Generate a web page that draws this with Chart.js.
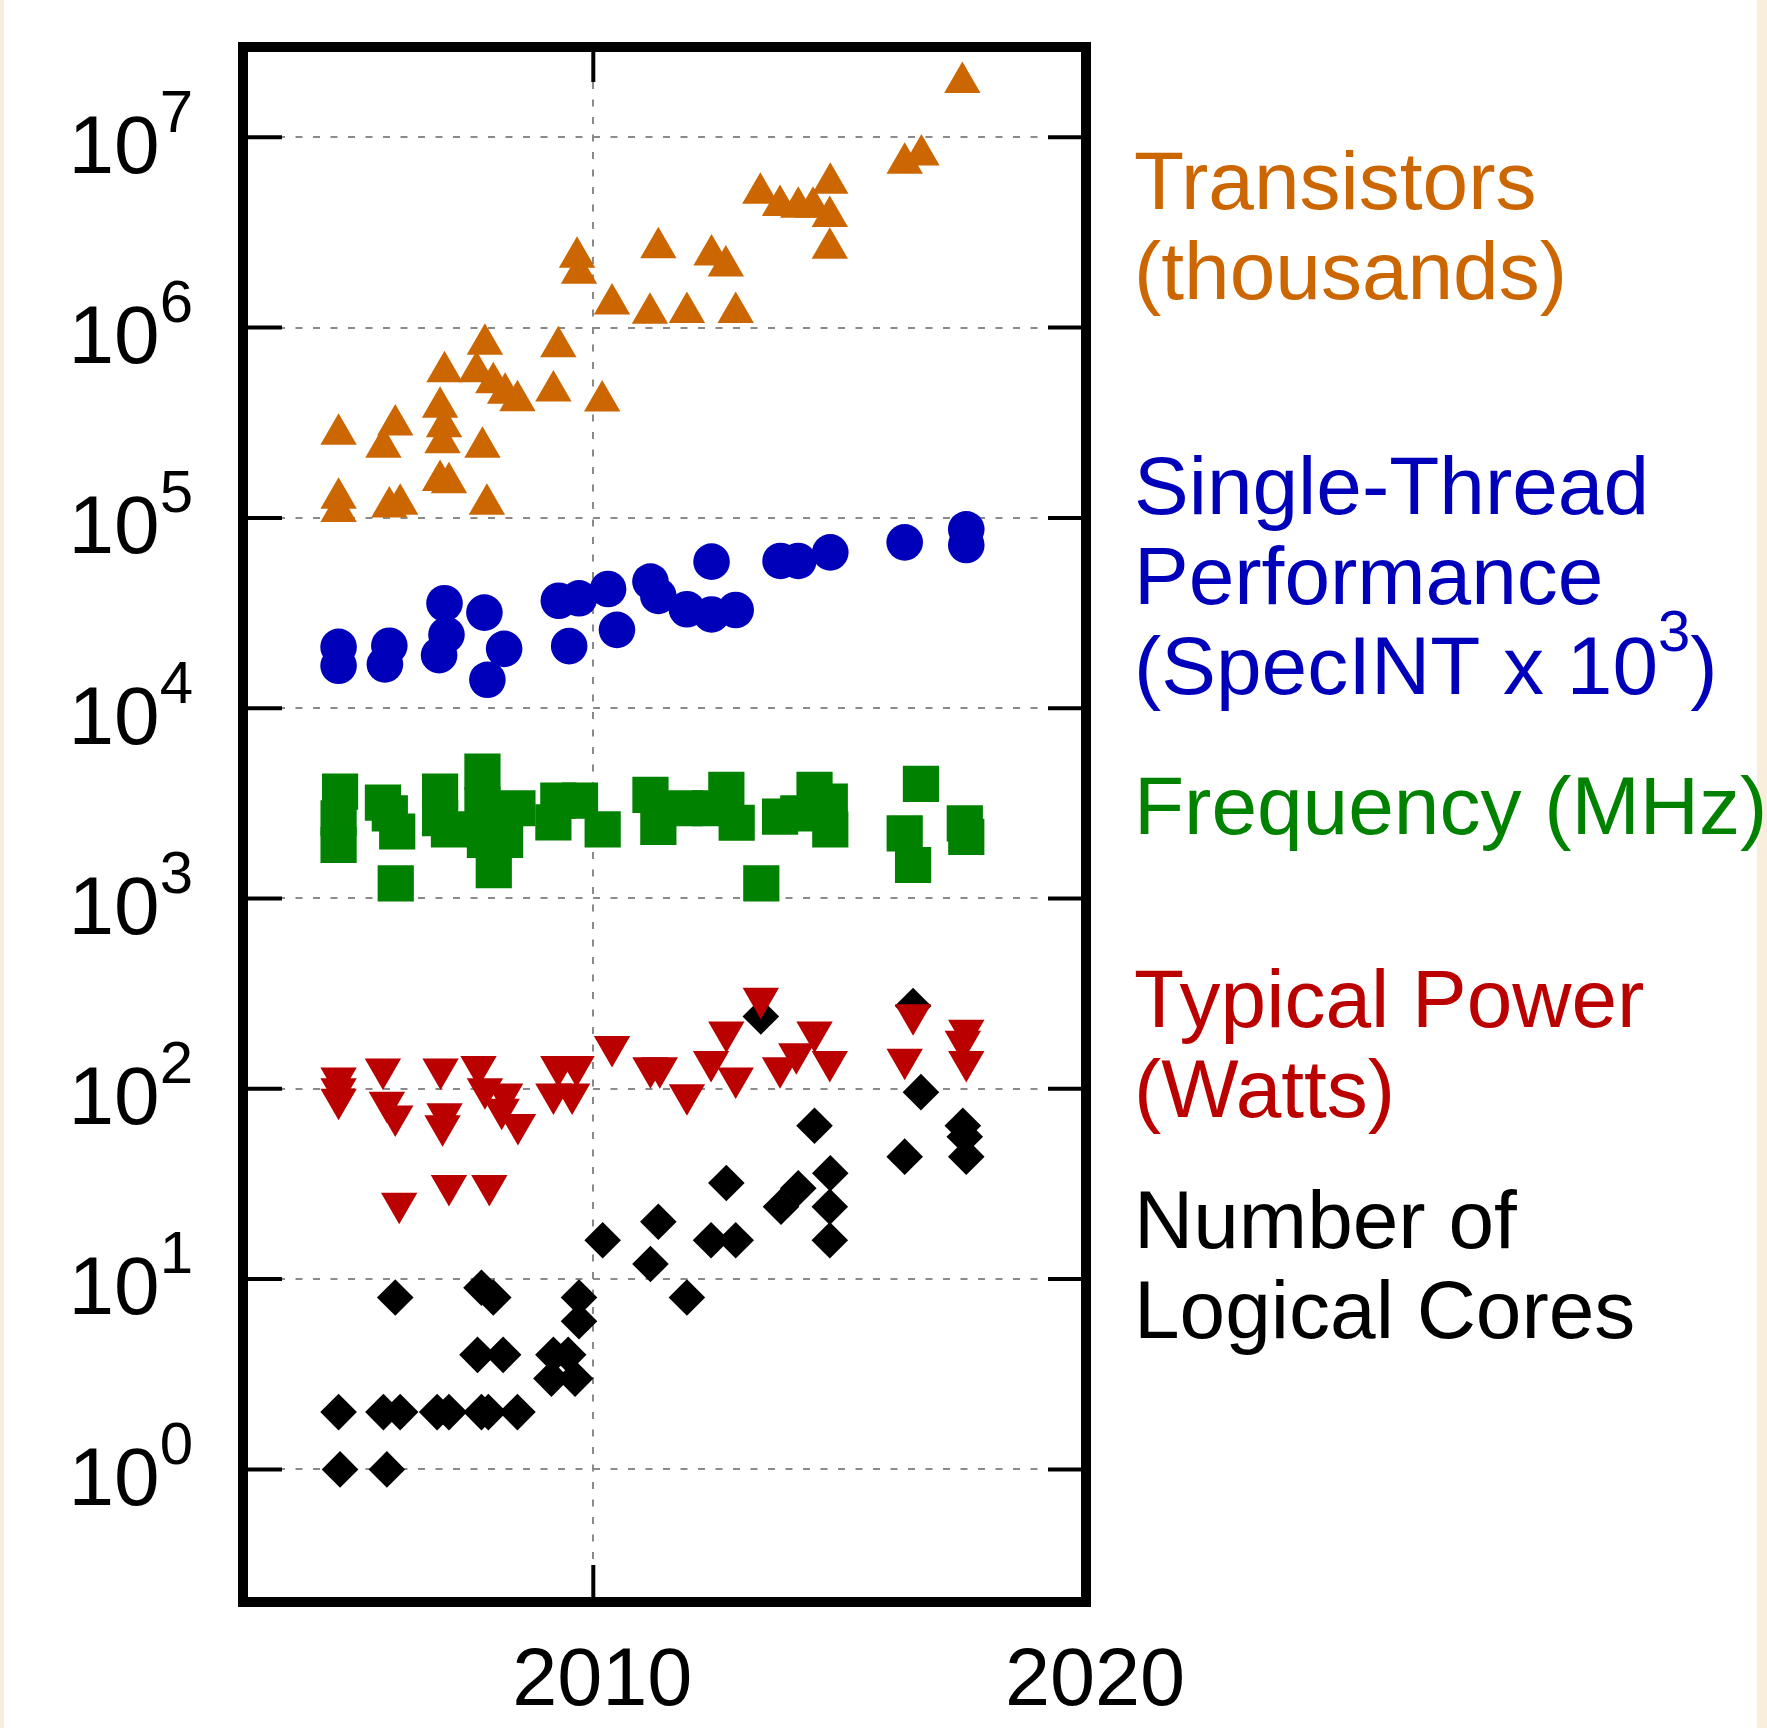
<!DOCTYPE html>
<html>
<head>
<meta charset="utf-8">
<script src="https://cdn.jsdelivr.net/npm/chart.js@4.4.1/dist/chart.umd.min.js"></script>
<style>
  html, body { margin: 0; padding: 0; background: #ffffff; }
  canvas { display: block; }
</style>
</head>
<body>
<canvas id="c" width="1767" height="1728"></canvas>
<script>
// ---------------- data ----------------
const transistorYears = [2004.83, 2005.98, 2005.74, 2006.89, 2006.97, 2006.94, 2007.75, 2006.98, 2007.80, 2007.63,
  2007.97, 2008.21, 2008.46, 2009.29, 2009.19, 2010.18, 2009.67, 2009.71, 2010.38, 2011.32,
  2011.15, 2011.90, 2004.83, 2004.83, 2005.86, 2006.08, 2006.89, 2007.07, 2007.84, 2017.49,
  2016.32, 2016.66, 2013.39, 2013.79, 2014.16, 2014.46, 2014.81, 2014.80, 2014.80, 2012.40,
  2012.69, 2012.89];
const transistorValues = [275000, 308000, 235000, 381000, 301000, 248000, 235000, 587000, 817000, 587000,
  513000, 452000, 413000, 794000, 465000, 411000, 2340000, 1930000, 1330000, 2630000,
  1190000, 1200000, 127000, 108000, 114000, 118000, 157000, 153000, 118000, 19400000,
  7300000, 8070000, 5080000, 4380000, 4290000, 4290000, 5730000, 3830000, 2610000, 2410000,
  2110000, 1200000];

const perfYears = [2004.83, 2004.83, 2005.86, 2005.77, 2006.98, 2007.02, 2006.87, 2007.79, 2008.19, 2007.85,
  2009.30, 2009.71, 2010.30, 2009.51, 2010.48, 2011.16, 2011.32, 2011.90, 2012.40, 2012.40,
  2012.89, 2013.80, 2014.16, 2014.81, 2016.32, 2017.57, 2017.57];
const perfValues = [21000, 16700, 21300, 17000, 35600, 24300, 19000, 31800, 20500, 14100,
  36700, 37800, 42300, 21200, 25800, 46300, 38900, 33100, 58900, 31100,
  32800, 59400, 59400, 65900, 74400, 87100, 72000];

const freqYears = [2004.86, 2004.83, 2004.83, 2005.73, 2005.87, 2006.02, 2005.99, 2006.89, 2006.89, 2007.07,
  2007.75, 2007.75, 2007.80, 2008.21, 2007.98, 2008.46, 2009.29, 2009.73, 2009.19, 2010.19,
  2011.16, 2011.32, 2011.86, 2012.37, 2012.70, 2012.91, 2013.41, 2013.79, 2014.16, 2014.49,
  2014.80, 2014.81, 2016.65, 2016.32, 2016.49, 2017.54, 2017.57];
const freqValues = [3640, 2640, 1910, 3190, 2800, 2250, 1200, 3640, 2640, 2310,
  4640, 3100, 2030, 2030, 1410, 2980, 3270, 3270, 2510, 2310,
  3500, 2380, 2980, 2980, 3720, 2500, 1200, 2690, 2800, 3720,
  3230, 2310, 4000, 2200, 1500, 2480, 2110];

const powerYears = [2004.83, 2004.83, 2004.83, 2005.73, 2005.81, 2005.98, 2006.90, 2006.98, 2006.94, 2007.67,
  2007.80, 2008.21, 2008.14, 2008.47, 2009.29, 2009.66, 2009.19, 2009.57, 2010.38, 2011.16,
  2011.35, 2011.90, 2012.70, 2012.39, 2012.89, 2013.40, 2013.79, 2014.12, 2014.49, 2014.80,
  2016.49, 2016.32, 2017.57, 2017.50, 2017.57, 2006.06, 2007.07, 2007.89];
const powerValues = [114, 100, 88, 127, 85, 72, 127, 74, 64, 131,
  100, 94, 78, 65, 131, 131, 94, 94, 167, 129,
  129, 93, 199, 139, 114, 299, 129, 153, 199, 139,
  245, 143, 203, 178, 139, 25, 31, 31];

const coresYears = [2004.83, 2005.74, 2006.08, 2006.83, 2007.07, 2007.73, 2007.87, 2008.46, 2004.86, 2005.81,
  2005.98, 2007.73, 2007.97, 2007.65, 2008.17, 2009.19, 2009.49, 2009.15, 2009.63, 2009.71,
  2009.71, 2010.19, 2011.32, 2011.16, 2011.90, 2012.70, 2012.39, 2012.89, 2013.81, 2014.16,
  2014.49, 2014.81, 2014.80, 2014.80, 2013.40, 2016.49, 2016.65, 2016.32, 2017.50, 2017.54,
  2017.57];
const coresValues = [2, 2, 2, 2, 2, 2, 2, 2, 1, 1,
  8, 9, 8, 4, 4, 4, 4, 3, 3, 8,
  6, 16, 20, 12, 8, 32, 16, 16, 24, 30,
  64, 36, 24, 16, 240, 272, 96, 44, 64, 56,
  44];

const xTickValues = [2010, 2020];
const xTickLabels = ['2010', '2020'];
const yTickExponents = [0, 1, 2, 3, 4, 5, 6, 7];

const seriesNames = ['Transistors (thousands)', 'Single-Thread Performance (SpecINT x 10^3)',
  'Frequency (MHz)', 'Typical Power (Watts)', 'Number of Logical Cores'];
// legend lines; {n} marks a superscript
const legendLines = [
  ['Transistors', '(thousands)'],
  ['Single-Thread', 'Performance', '(SpecINT x 10{3})'],
  ['Frequency (MHz)'],
  ['Typical Power', '(Watts)'],
  ['Number of', 'Logical Cores']
];

// ---------------- styling ----------------
const FONT = '"Liberation Sans", Arial, Helvetica, sans-serif';
const colors = ['#cc6600', '#0000bb', '#008200', '#bb0000', '#000000'];
const legendBaselines = [208.5, 514, 834, 1027, 1248];
const legendLineStep = 90;

function pts(xs, ys) { return xs.map((x, i) => ({ x: x, y: ys[i] })); }

const frame = {
  id: 'frame',
  beforeDraw(chart) {
    const { ctx, width, height } = chart;
    ctx.save();
    ctx.fillStyle = '#f9eddc';
    ctx.fillRect(0, 0, width, height);
    ctx.fillStyle = '#ffffff';
    ctx.fillRect(4, 0, 1753, height);
    ctx.restore();
  },
  afterDraw(chart) {
    const { ctx, chartArea: a } = chart;
    const xs = chart.scales.x, ys = chart.scales.y;
    ctx.save();
    // inner tick marks
    ctx.strokeStyle = '#000';
    ctx.lineWidth = 4;
    ctx.beginPath();
    ys.ticks.forEach(t => {
      const py = ys.getPixelForValue(t.value);
      ctx.moveTo(a.left, py); ctx.lineTo(a.left + 39, py);
      ctx.moveTo(a.right, py); ctx.lineTo(a.right - 38, py);
    });
    xs.ticks.forEach(t => {
      const px = xs.getPixelForValue(t.value);
      ctx.moveTo(px, a.top); ctx.lineTo(px, a.top + 35);
      ctx.moveTo(px, a.bottom); ctx.lineTo(px, a.bottom - 37);
    });
    ctx.stroke();
    // frame
    ctx.lineWidth = 10;
    ctx.lineJoin = 'miter';
    ctx.strokeRect(a.left, a.top, a.right - a.left, a.bottom - a.top);

    // y tick labels 10^n
    ctx.fillStyle = '#000';
    ctx.textAlign = 'right';
    ctx.textBaseline = 'alphabetic';
    const labelRight = a.left - 50;
    ys.ticks.forEach(t => {
      const e = Math.round(Math.log10(t.value));
      const py = ys.getPixelForValue(t.value);
      ctx.font = '60px ' + FONT;
      const sup = String(e);
      const sw = ctx.measureText(sup).width;
      ctx.fillText(sup, labelRight, py - 5.6);
      ctx.font = '82px ' + FONT;
      ctx.fillText('10', labelRight - sw, py + 35.4);
    });

    // legend text at the right
    ctx.textAlign = 'left';
    const lx = a.right + 48;
    legendLines.forEach((lines, si) => {
      ctx.fillStyle = colors[si];
      lines.forEach((line, li) => {
        const by = legendBaselines[si] + li * legendLineStep;
        let x = lx;
        const parts = line.split(/(\{[^}]*\})/).filter(s => s.length);
        parts.forEach(p => {
          if (p[0] === '{') {
            const s = p.slice(1, -1);
            ctx.font = '58px ' + FONT;
            ctx.fillText(s, x, by - 43);
            x += ctx.measureText(s).width;
          } else {
            ctx.font = '82px ' + FONT;
            ctx.fillText(p, x, by);
            x += ctx.measureText(p).width;
          }
        });
      });
    });
    ctx.restore();
  }
};

const ctx = document.getElementById('c').getContext('2d');
new Chart(ctx, {
  type: 'scatter',
  data: {
    datasets: [
      { label: seriesNames[0], data: pts(transistorYears, transistorValues), pointStyle: 'triangle', rotation: 0,
        pointRadius: 21, backgroundColor: colors[0], borderWidth: 0 },
      { label: seriesNames[1], data: pts(perfYears, perfValues), pointStyle: 'circle',
        pointRadius: 18.3, backgroundColor: colors[1], borderWidth: 0 },
      { label: seriesNames[2], data: pts(freqYears, freqValues), pointStyle: 'rect',
        pointRadius: 25.6, backgroundColor: colors[2], borderWidth: 0 },
      { label: seriesNames[3], data: pts(powerYears, powerValues), pointStyle: 'triangle', rotation: 180,
        pointRadius: 21, backgroundColor: colors[3], borderWidth: 0 },
      { label: seriesNames[4], data: pts(coresYears, coresValues), pointStyle: 'rectRot',
        pointRadius: 18.3, backgroundColor: colors[4], borderWidth: 0 }
    ]
  },
  options: {
    responsive: false,
    animation: false,
    devicePixelRatio: 1,
    events: [],
    layout: { padding: { left: 243, top: 47, right: 681, bottom: 0 } },
    plugins: { legend: { display: false }, tooltip: { enabled: false }, title: { display: false } },
    scales: {
      x: {
        type: 'linear',
        position: 'bottom',
        min: 2002.89,
        max: 2020,
        afterBuildTicks: s => { s.ticks = xTickValues.map(v => ({ value: v })); },
        afterFit: s => { s.height = 126; },
        grid: { color: '#8a8a8a', lineWidth: 2, drawTicks: false },
        border: { display: false, dash: [7, 10.5] },
        ticks: {
          autoSkip: false, maxRotation: 0, minRotation: 0,
          padding: 40, labelOffset: 9, color: '#000',
          font: { family: FONT, size: 81, lineHeight: 1 },
          callback: v => xTickLabels[xTickValues.indexOf(v)]
        }
      },
      y: {
        type: 'logarithmic',
        position: 'left',
        min: 0.201,
        max: 2.982e7,
        afterBuildTicks: s => { s.ticks = yTickExponents.map(e => ({ value: Math.pow(10, e) })); },
        afterFit: s => { s.width = 0; },
        grid: { color: '#8a8a8a', lineWidth: 2, drawTicks: false },
        border: { display: false, dash: [7, 10.5] },
        ticks: { display: false }
      }
    }
  },
  plugins: [frame]
});
</script>
</body>
</html>
